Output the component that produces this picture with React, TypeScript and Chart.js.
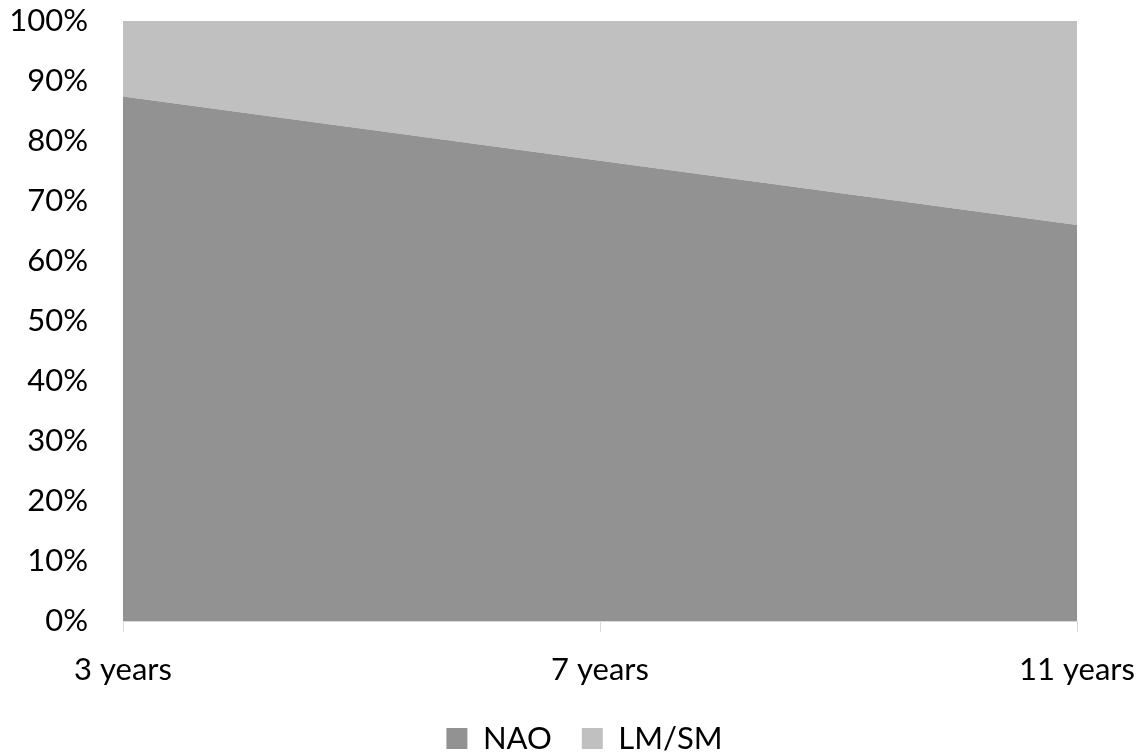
import React, { useEffect, useRef } from "react";
import { Chart, registerables } from "chart.js";

Chart.register(...registerables);

const categories = ["3 years", "7 years", "11 years"];
const naoValues = [87.4, 76.7, 66.0];
const lmsmValues = [12.6, 23.3, 34.0];
const yTicks = [0, 10, 20, 30, 40, 50, 60, 70, 80, 90, 100];

const FONT = "Lato";
const FS = 31;

const legendShift = {
  id: "legendShift",
  afterLayout(chart: any) {
    if (chart.legend) {
      chart.legend.left += 23;
    }
  },
};

export default function App() {
  const ref = useRef<HTMLCanvasElement | null>(null);
  useEffect(() => {
    document.body.style.margin = "0";
    const ctx = ref.current!;
    const chart = new Chart(ctx, {
      type: "line",
      data: {
        labels: categories,
        datasets: [
          {
            label: "NAO",
            data: naoValues,
            backgroundColor: "#929292",
            borderColor: "#929292",
            borderWidth: 0,
            pointRadius: 0,
            fill: "origin",
            tension: 0,
          },
          {
            label: "LM/SM",
            data: lmsmValues,
            backgroundColor: "#c0c0c0",
            borderColor: "#c0c0c0",
            borderWidth: 0,
            pointRadius: 0,
            fill: "-1",
            tension: 0,
          },
        ],
      },
      options: {
        animation: false,
        responsive: false,
        layout: { padding: { left: 0, right: 0, top: 21, bottom: -8 } },
        plugins: {
          legend: {
            position: "bottom",
            labels: {
              color: "#000",
              font: { family: FONT, size: FS },
              boxWidth: 21,
              boxHeight: 21,
              padding: 30,
            },
          },
          tooltip: { enabled: false },
        },
        scales: {
          x: {
            offset: false,
            grid: {
              drawOnChartArea: false,
              drawTicks: true,
              tickLength: 11,
              color: "#d9d9d9",
            },
            border: { color: "#d9d9d9", width: 1 },
            ticks: {
              color: "#000",
              font: { family: FONT, size: FS },
              padding: 19,
              maxRotation: 0,
              autoSkip: false,
            },
            afterFit: (s: any) => {
              s.height = 72;
              s.paddingLeft = 0;
              s.paddingRight = 69;
            },
          },
          y: {
            stacked: true,
            min: 0,
            max: 100,
            afterBuildTicks: (s: any) => {
              s.ticks = yTicks.map((v) => ({ value: v }));
            },
            grid: { color: "#d9d9d9", drawTicks: false },
            border: { display: false },
            ticks: {
              color: "#000",
              font: { family: FONT, size: FS },
              padding: 35,
              callback: (v: any) => v + "%",
            },
            afterFit: (s: any) => {
              s.width = 123;
              s.paddingTop = 0;
              s.paddingBottom = 0;
            },
          },
        },
      },
      plugins: [legendShift],
    });
    return () => chart.destroy();
  }, []);
  return (
    <div style={{ width: 1146, height: 756 }}>
      <canvas ref={ref} width={1146} height={756} />
    </div>
  );
}
